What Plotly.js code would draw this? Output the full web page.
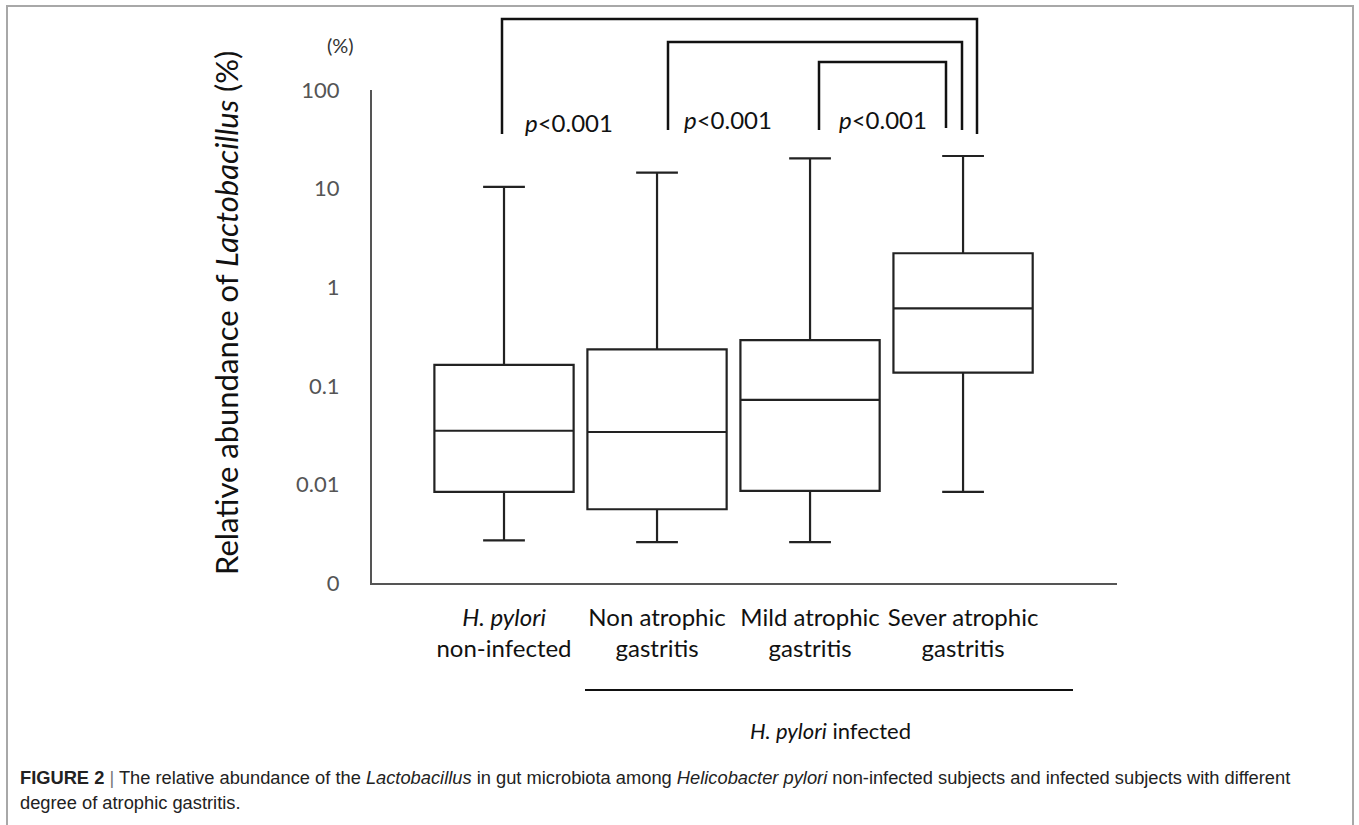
<!DOCTYPE html>
<html>
<head>
<meta charset="utf-8">
<script src="https://cdn.plot.ly/plotly-3.0.1.min.js"></script>
<style>
  html, body { margin: 0; padding: 0; background: #ffffff; }
  #chart { width: 1359px; height: 825px; }
</style>
</head>
<body>
<div id="chart"></div>
<script>
// ---------- data ----------
const categories = [
  '<i>H. pylori</i><br>non-infected',
  'Non atrophic<br>gastritis',
  'Mild atrophic<br>gastritis',
  'Sever atrophic<br>gastritis'
];
const positions     = [0, 1, 2, 3];
const lowerWhisker  = [0.0027, 0.0026, 0.0026, 0.0084];
const quartile1     = [0.0084, 0.0056, 0.0086, 0.136];
const medians       = [0.035, 0.034, 0.072, 0.61];
const quartile3     = [0.163, 0.234, 0.29, 2.21];
const upperWhisker  = [10.4, 14.5, 20.3, 21.4];

const yTickVals  = [0.001, 0.01, 0.1, 1, 10, 100];
const yTickText  = ['0', '0.01', '0.1', '1', '10', '100'];

const comparisons = [[0, 3], [1, 3], [2, 3]];
const pLabels     = ['<i>p</i><0.001', '<i>p</i><0.001', '<i>p</i><0.001'];

const yTitle   = 'Relative abundance of <i>Lactobacillus</i> (%)';
const unitText = '(%)';
const groupLabel = '<i>H. pylori</i> infected';
const caption1 = '<b>FIGURE 2</b> <span style="color:#777">|</span> The relative abundance of the <i>Lactobacillus</i> in gut microbiota among <i>Helicobacter pylori</i> non-infected subjects and infected subjects with different';
const caption2 = 'degree of atrophic gastritis.';

// ---------- layout helpers (plot-area geometry) ----------
const L = 372, T = 90, W = 745, H = 493;
const X0 = -0.8627, X1 = 4.006;
const pxPerUnit = W / (X1 - X0);
const px2p = px => (px - L) / W;
const py2p = py => (T + H - py) / H;
const px2x = px => (px - L) / pxPerUnit + X0;

const FONT = 'Lato, "Open Sans", sans-serif';
const CAPFONT = '"Liberation Sans Narrow", "Liberation Sans", Arial, sans-serif';

// bracket geometry (pixels): [leftX, leftBottom, topY, rightX, rightBottom]
const bracketGeom = [
  [502, 134, 19, 977, 134],
  [668, 130, 42, 962, 130],
  [819, 130, 62, 946, 128]
];
const pPos = [[569, 122], [728, 119], [883, 120]];

const shapes = [];
const annotations = [];

comparisons.forEach((c, i) => {
  const g = bracketGeom[i];
  shapes.push({
    type: 'path', xref: 'x', yref: 'paper',
    path: `M ${px2x(g[0])},${py2p(g[1])} L ${px2x(g[0])},${py2p(g[2])} L ${px2x(g[3])},${py2p(g[2])} L ${px2x(g[3])},${py2p(g[4])}`,
    line: { color: '#111', width: 2.5 }
  });
  annotations.push({
    xref: 'paper', yref: 'paper', x: px2p(pPos[i][0]), y: py2p(pPos[i][1]),
    xanchor: 'center', yanchor: 'middle', showarrow: false,
    text: pLabels[i], font: { family: FONT, size: 24, color: '#111' }
  });
});

// group underline
shapes.push({
  type: 'line', xref: 'paper', yref: 'paper',
  x0: px2p(585), x1: px2p(1073), y0: py2p(690), y1: py2p(690),
  line: { color: '#111', width: 2 }
});
// outer frame
shapes.push({
  type: 'rect', xref: 'paper', yref: 'paper',
  x0: px2p(7), x1: px2p(1353), y0: py2p(6), y1: py2p(830),
  line: { color: '#a8a8a8', width: 2 }
});

annotations.push(
  { xref: 'paper', yref: 'paper', x: px2p(226), y: py2p(313), xanchor: 'center', yanchor: 'middle',
    showarrow: false, textangle: -90, text: yTitle, font: { family: FONT, size: 31, color: '#111' } },
  { xref: 'paper', yref: 'paper', x: px2p(340), y: py2p(45), xanchor: 'center', yanchor: 'middle',
    showarrow: false, text: unitText, font: { family: FONT, size: 20, color: '#333' } },
  { xref: 'paper', yref: 'paper', x: px2p(830), y: py2p(730), xanchor: 'center', yanchor: 'middle',
    showarrow: false, text: groupLabel, font: { family: FONT, size: 22, color: '#111' } },
  { xref: 'paper', yref: 'paper', x: px2p(18), y: py2p(777), xanchor: 'left', yanchor: 'middle', align: 'left',
    showarrow: false, text: caption1, font: { family: CAPFONT, size: 18.3, color: '#222' } },
  { xref: 'paper', yref: 'paper', x: px2p(18), y: py2p(802), xanchor: 'left', yanchor: 'middle', align: 'left',
    showarrow: false, text: caption2, font: { family: CAPFONT, size: 18.3, color: '#222' } }
);

const trace = {
  type: 'box',
  x: positions,
  q1: quartile1,
  median: medians,
  q3: quartile3,
  lowerfence: lowerWhisker,
  upperfence: upperWhisker,
  boxpoints: false,
  whiskerwidth: 0.3,
  line: { color: '#222', width: 2.2 },
  fillcolor: 'rgba(255,255,255,0)',
  hoverinfo: 'skip'
};

const layout = {
  width: 1359, height: 825,
  margin: { l: L, r: 1359 - L - W, t: T, b: 825 - T - H, pad: 0 },
  paper_bgcolor: '#ffffff', plot_bgcolor: '#ffffff',
  showlegend: false,
  boxgap: 0.09,
  boxgroupgap: 0,
  xaxis: {
    range: [X0, X1], tickvals: positions, ticktext: categories,
    tickangle: 0,
    showline: true, linecolor: '#555', linewidth: 2,
    showgrid: false, zeroline: false, ticks: '',
    tickfont: { family: FONT, size: 24, color: '#111' },
    ticklabelstandoff: 12
  },
  yaxis: {
    type: 'log', range: [-3, 2], tickvals: yTickVals, ticktext: yTickText,
    showline: true, linecolor: '#555', linewidth: 2,
    showgrid: false, zeroline: false, ticks: '',
    tickfont: { family: FONT, size: 22, color: '#555' },
    ticklabelstandoff: 26
  },
  shapes: shapes,
  annotations: annotations
};

Plotly.newPlot('chart', [trace], layout, { displayModeBar: false, staticPlot: true });
</script>
</body>
</html>
